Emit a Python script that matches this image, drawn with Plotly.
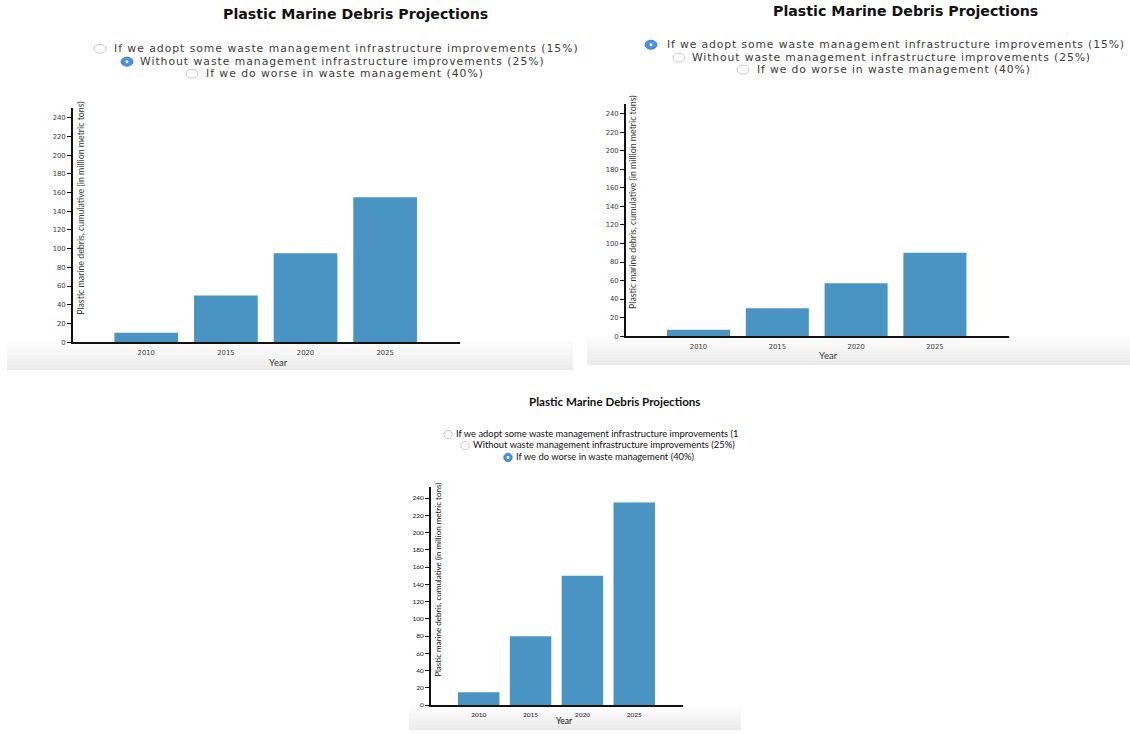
import plotly.graph_objects as go

W, H = 1130, 734

# ---------------- data ----------------
years = ["2010", "2015", "2020", "2025"]
scenario_labels = [
    "If we adopt some waste management infrastructure improvements (15%)",
    "Without waste management infrastructure improvements (25%)",
    "If we do worse in waste management (40%)",
]
debris_15 = [7, 30, 57, 90]
debris_25 = [10, 50, 95, 155]
debris_40 = [15, 80, 150, 235]
y_ticks = [0, 20, 40, 60, 80, 100, 120, 140, 160, 180, 200, 220, 240]
title_text = "Plastic Marine Debris Projections"
y_title = "Plastic marine debris, cumulative (in million metric tons)"
x_title = "Year"

BAR = "#4a94c4"
BLUE = "#4a8fe6"

# ---------------- panel geometry (pixels) ----------------
panels = [
    dict(values=debris_25, sel=1, box=(7, 573), strip=(344, 372),
         plot=(73, 460, 109, 344), yr=250.0,
         title=(355, 14), radios_y=[49, 62, 74], circ_x=[100, 127, 192], text_x=[112, 138, 204],
         ytitle=(81, 210), xtitle=(278, 364), xstand=3,
         tfont="DejaVu Sans", tsize=14.2, rfont="DejaVu Sans", rsize=10.8, spacing=0.98, rad=(6, 4.5),
         tickfont="DejaVu Sans", tick_size=6.8, ytsize=8.8, xtsize=9.5, col="#3a3a3a"),
    dict(values=debris_15, sel=0, box=(587, 1130), strip=(339, 367),
         plot=(626, 1009, 105, 338), yr=250.0,
         title=(905, 11), radios_y=[45, 58, 70], circ_x=[651, 679, 743], text_x=[665, 690, 755],
         ytitle=(633, 204), xtitle=(828, 357), xstand=3,
         tfont="DejaVu Sans", tsize=14.2, rfont="DejaVu Sans", rsize=10.8, spacing=0.88, rad=(6, 4.5),
         tickfont="DejaVu Sans", tick_size=6.8, ytsize=8.8, xtsize=9.5, col="#3a3a3a"),
    dict(values=debris_40, sel=2, box=(409, 741), strip=(711, 734),
         plot=(431, 683, 490, 709), yr=252.6,
         title=(614, 404), radios_y=[437, 448, 460], circ_x=[448, 465, 508], text_x=[456, 473, 516],
         ytitle=(438, 583), xtitle=(564, 725), xstand=2,
         tfont="Lato", tsize=11.6, rfont="Lato", rsize=9.4, spacing=0, rad=(4.2, 4.2),
         tickfont="Lato", tick_size=6.5, ytsize=8, xtsize=8.5, col="#111111"),
]

def px(x):
    return x / W

def py(y):
    return 1 - y / H

fig = go.Figure()
shapes = []
annotations = []
layout_axes = {}

XR = [-0.92, 3.94]

for i, p in enumerate(panels):
    n = i + 1
    xa = "x" if n == 1 else f"x{n}"
    ya = "y" if n == 1 else f"y{n}"
    xl, xr, yt, yb = p["plot"]

    # grey gradient strip at the bottom of each screenshot
    s0, s1 = p["strip"]
    steps = 10
    for k in range(steps):
        g = int(255 - (255 - 234) * (k + 1) / steps)
        y0 = s0 + (s1 - s0) * k / steps
        y1 = s0 + (s1 - s0) * (k + 1) / steps
        shapes.append(dict(type="rect", xref="paper", yref="paper", layer="below",
                           x0=px(p["box"][0]), x1=px(p["box"][1]), y0=py(y1), y1=py(y0),
                           line=dict(width=0), fillcolor=f"rgb({g},{g},{g})"))

    fig.add_trace(go.Bar(x=years, y=p["values"], marker=dict(color=BAR, line=dict(width=0)),
                         xaxis=xa, yaxis=ya, showlegend=False, hoverinfo="x+y"))

    tf = dict(family=p["tickfont"], size=p["tick_size"], color=p["col"])
    layout_axes["xaxis" if n == 1 else f"xaxis{n}"] = dict(
        domain=[px(xl), px(xr)], anchor=ya, type="category", range=XR,
        showline=True, linecolor="#111", linewidth=2, ticks="", showgrid=False,
        zeroline=False, tickfont=tf,
        showticklabels=True, ticklabelstandoff=p["xstand"], fixedrange=True)
    layout_axes["yaxis" if n == 1 else f"yaxis{n}"] = dict(
        domain=[py(yb), py(yt)], anchor=xa, range=[0, p["yr"]],
        tickvals=y_ticks, showline=True, linecolor="#111", linewidth=2,
        ticks="outside", ticklen=4, tickwidth=1, tickcolor="#111", showgrid=False,
        zeroline=False, tickfont=tf, fixedrange=True)

    # axis end ticks (d3 style domain path)
    shapes.append(dict(type="line", xref=f"{xa} domain", yref=ya, x0=1, x1=1,
                       ysizemode="pixel", yanchor=0, y0=0, y1=-5,
                       line=dict(color="#111", width=2)))
    shapes.append(dict(type="line", xref=xa, yref=f"{ya} domain", y0=1, y1=1,
                       xsizemode="pixel", xanchor=XR[0], x0=0, x1=-5,
                       line=dict(color="#111", width=2)))

    # title
    annotations.append(dict(x=px(p["title"][0]), y=py(p["title"][1]), xref="paper", yref="paper",
                            text=f"<b>{title_text}</b>", showarrow=False, xanchor="center",
                            yanchor="middle",
                            font=dict(family=p["tfont"], size=p["tsize"], color="#111")))
    # axis titles
    annotations.append(dict(x=px(p["ytitle"][0]), y=py(p["ytitle"][1]), xref="paper", yref="paper",
                            text=y_title, textangle=-90, showarrow=False, xanchor="center",
                            yanchor="middle",
                            font=dict(family="Lato", size=p["ytsize"], color=p["col"])))
    annotations.append(dict(x=px(p["xtitle"][0]), y=py(p["xtitle"][1]), xref="paper", yref="paper",
                            text=x_title, showarrow=False, xanchor="center", yanchor="middle",
                            font=dict(family="Lato", size=p["xtsize"], color=p["col"])))

    # radio buttons
    rx, ry = p["rad"]
    for j, lab in enumerate(scenario_labels):
        cx, cy = p["circ_x"][j], p["radios_y"][j]
        if j == p["sel"]:
            shapes.append(dict(type="circle", xref="paper", yref="paper",
                               x0=px(cx - rx), x1=px(cx + rx), y0=py(cy + ry), y1=py(cy - ry),
                               fillcolor=BLUE, line=dict(color="#3f84dd", width=1)))
            shapes.append(dict(type="circle", xref="paper", yref="paper",
                               x0=px(cx - 1.5), x1=px(cx + 1.5), y0=py(cy + 1.5), y1=py(cy - 1.5),
                               fillcolor="white", line=dict(width=0)))
        else:
            shapes.append(dict(type="circle", xref="paper", yref="paper",
                               x0=px(cx - rx), x1=px(cx + rx), y0=py(cy + ry), y1=py(cy - ry),
                               fillcolor="white", line=dict(color="#c9c9c9", width=1)))
        if n != 3:
            txt = f'<span style="letter-spacing:{p["spacing"]}px">{lab}</span>'
            annotations.append(dict(x=px(p["text_x"][j]), y=py(cy), xref="paper", yref="paper",
                                    text=txt, showarrow=False, xanchor="left", yanchor="middle",
                                    font=dict(family=p["rfont"], size=p["rsize"], color=p["col"])))

# panel 3 radio labels: clipped at the right edge of the screenshot
p3 = panels[2]
clip_r = 738
fig.add_trace(go.Scatter(
    x=p3["text_x"], y=p3["radios_y"], text=scenario_labels, mode="text",
    textposition="middle right", cliponaxis=True, showlegend=False, hoverinfo="skip",
    textfont=dict(family=p3["rfont"], size=p3["rsize"], color="#111"),
    xaxis="x4", yaxis="y4"))
layout_axes["xaxis4"] = dict(domain=[px(p3["box"][0]), px(clip_r)], range=[p3["box"][0], clip_r],
                             visible=False, anchor="y4", fixedrange=True)
layout_axes["yaxis4"] = dict(domain=[py(470), py(428)], range=[470, 428],
                             visible=False, anchor="x4", fixedrange=True)

fig.update_layout(
    width=W, height=H, margin=dict(l=0, r=0, t=0, b=0),
    paper_bgcolor="white", plot_bgcolor="rgba(0,0,0,0)",
    bargap=0.2, shapes=shapes, annotations=annotations, showlegend=False,
    **layout_axes)

fig.write_html("out.html")
